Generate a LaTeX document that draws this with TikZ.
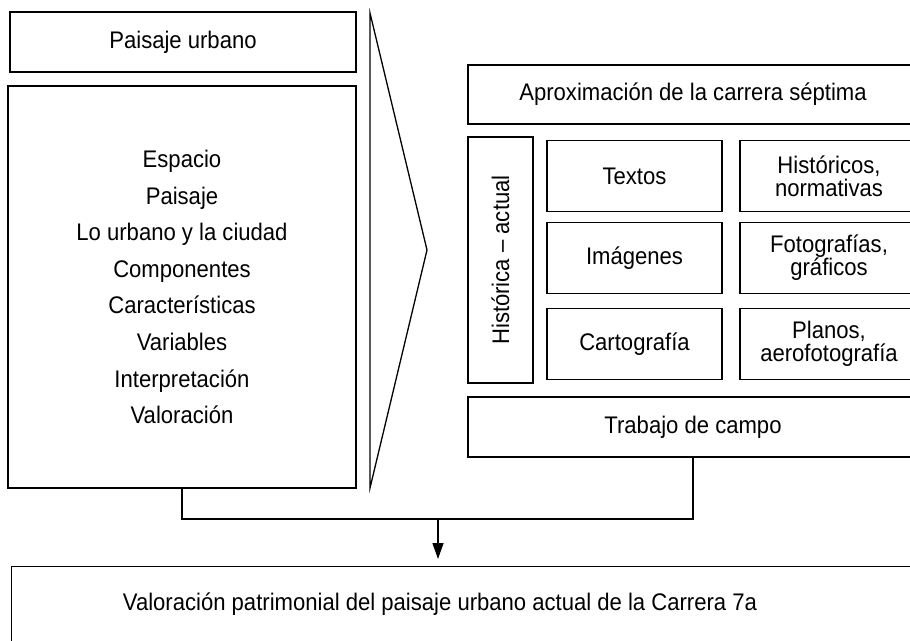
\documentclass[tikz,border=0pt]{standalone}
\usepackage{fontspec}
\setmainfont{Liberation Sans}[FakeStretch=0.92]
\usetikzlibrary{arrows.meta}

\begin{document}
\begin{tikzpicture}[x=1pt,y=-1pt,
	caja/.style={draw, line width=1.3pt, rectangle, inner sep=0pt, align=center, font=\fontsize{24}{23}\selectfont},
	linea/.style={line width=1.3pt}]
	\useasboundingbox (0,0) rectangle (910,640);
	\clip (0,0) rectangle (910,640);

	\node[caja, minimum width=346pt, minimum height=60pt] (urbano) at (183,42) {Paisaje urbano};
	\node[caja, minimum width=348pt, minimum height=402pt, font=\fontsize{24}{36.6}\selectfont] (temas) at (182,287)
		{Espacio\\Paisaje\\Lo urbano y la ciudad\\Componentes\\Caracter\'isticas\\Variables\\Interpretaci\'on\\Valoraci\'on};

	\draw[linea] (370,13)--(370,488)--(427,250)--cycle;

	\node[caja, minimum width=450pt, minimum height=59pt] (aprox) at (693,94.5) {Aproximación de la carrera séptima};
	\node[caja, minimum width=246pt, minimum height=65pt, rotate=90] (epoca) at (500.5,260) {Histórica -- actual};

	\node[caja, minimum width=175pt, minimum height=71pt] (textos) at (634.5,176) {Textos};
	\node[caja, minimum width=178pt, minimum height=71pt] (normas) at (829,176) {Históricos,\\normativas};
	\node[caja, minimum width=175pt, minimum height=71pt] (imagenes) at (634.5,258) {Imágenes};
	\node[caja, minimum width=178pt, minimum height=71pt] (fotos) at (829,258) {Fotografías,\\gráficos};
	\node[caja, minimum width=175pt, minimum height=71pt] (carto) at (634.5,344) {Cartografía};
	\node[caja, minimum width=178pt, minimum height=71pt] (planos) at (829,344) {Planos,\\aerofotografía};

	\node[caja, minimum width=450pt, minimum height=60pt] (trabajo) at (693,427) {Trabajo de campo};

	\node[caja, anchor=north west, minimum width=919pt, minimum height=120pt] (final) at (11,566) {};
	\node[font=\fontsize{24}{23}\selectfont] (valoracion) at (440,604) {Valoración patrimonial del paisaje urbano actual de la Carrera 7a};

	\coordinate (union) at (438,519);
	\draw[linea] (temas.south) |- (union) -| (trabajo.south);
	\draw[linea, -{Triangle[length=16pt,width=11pt]}, shorten >=7pt] (union)--(union |- final.north);

\end{tikzpicture}
\end{document}
